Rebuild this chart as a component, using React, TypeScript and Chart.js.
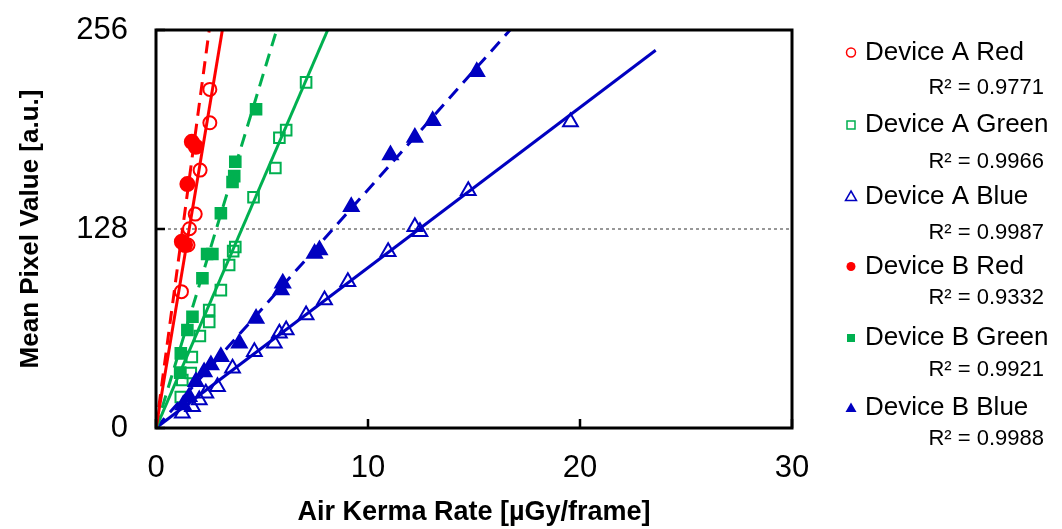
import React, { useEffect, useRef } from "react";
import { Chart, registerables } from "chart.js";

Chart.register(...registerables);

// ---------- data ----------
const seriesNames = [
  "Device A Red",
  "Device A Green",
  "Device A Blue",
  "Device B Red",
  "Device B Green",
  "Device B Blue",
];
const r2Values = ["0.9771", "0.9966", "0.9987", "0.9332", "0.9921", "0.9988"];

const aRedX = [2.54, 2.54, 2.08, 1.85, 1.58, 1.51, 1.2];
const aRedY = [217.8, 196.3, 165.9, 137.6, 128.2, 117.7, 87.7];

const bRedX = [1.69, 1.88, 1.48, 1.22, 1.37];
const bRedY = [184.1, 180.9, 156.9, 119.8, 117.7];

const aGreenX = [7.08, 6.14, 5.82, 5.63, 4.6, 3.74, 3.64, 3.45, 3.06, 2.51, 2.51, 2.07, 1.69, 1.64, 1.24, 1.17];
const aGreenY = [222.3, 191.6, 186.7, 167.2, 148.4, 116.4, 113.8, 104.8, 88.7, 75.9, 68.2, 59.2, 45.7, 35.4, 30.9, 19.9];

const bGreenX = [4.72, 3.74, 3.69, 3.61, 3.06, 2.66, 2.41, 2.19, 1.72, 1.48, 1.17, 1.14];
const bGreenY = [205, 171.3, 162, 158.2, 138.1, 111.9, 111.9, 96.3, 71.6, 63, 48, 35.6];

const aBlueX = [19.55, 14.73, 12.45, 12.21, 10.95, 9.05, 7.95, 7.08, 6.14, 5.82, 5.58, 4.64, 3.61, 2.9, 2.35, 2.04, 1.72, 1.24];
const aBlueY = [196.8, 152.6, 126.2, 129.5, 113.4, 94.1, 82.3, 72.7, 63, 60.9, 54.5, 49.1, 38.4, 26.6, 22.3, 18, 13.7, 9.5];

const bBlueX = [15.13, 13.05, 12.21, 11.06, 9.21, 7.71, 7.48, 5.98, 5.9, 4.72, 3.93, 3.06, 2.59, 2.27, 1.88, 1.56, 1.28];
const bBlueY = [229.1, 197.6, 186.9, 175.6, 142.3, 114.5, 112.3, 93.1, 88.7, 70.5, 54.5, 45.9, 40.5, 36, 29.8, 20.1, 14.8];

// trend lines (end points)
const trendARedX = [0, 3.13];
const trendARedY = [0, 256];
const trendBRedX = [0, 2.51];
const trendBRedY = [0, 256];
const trendAGreenX = [0, 8.1];
const trendAGreenY = [0, 256];
const trendBGreenX = [0, 5.69];
const trendBGreenY = [0, 256];
const trendABlueX = [0, 23.57];
const trendABlueY = [0, 243];
const trendBBlueX = [0, 16.7];
const trendBBlueY = [0, 256];

const xTickValues = [0, 10, 20, 30];
const yTickValues = [0, 128, 256];
const refLineValue = 128;

// ---------- styles ----------
const RED = "#FF0000";
const GREEN = "#00B050";
const BLUE = "#0000C0";
const colors = [RED, GREEN, BLUE, RED, GREEN, BLUE];
const shapes = ["circle", "rect", "triangle", "circle", "rect", "triangle"];
const filled = [false, false, false, true, true, true];

const SANS = "'Liberation Sans', Arial, sans-serif";

const toPts = (xs: number[], ys: number[]) => xs.map((x, i) => ({ x, y: ys[i] }));

function drawMarker(ctx: CanvasRenderingContext2D, shape: string, x: number, y: number, color: string, fill: boolean) {
  ctx.save();
  ctx.beginPath();
  if (shape === "circle") {
    ctx.arc(x, y, 4.5, 0, Math.PI * 2);
  } else if (shape === "rect") {
    ctx.rect(x - 4, y - 4, 8, 8);
  } else {
    ctx.moveTo(x, y - 5.5);
    ctx.lineTo(x + 5.5, y + 4);
    ctx.lineTo(x - 5.5, y + 4);
    ctx.closePath();
  }
  if (fill) {
    ctx.fillStyle = color;
    ctx.fill();
  } else {
    ctx.strokeStyle = color;
    ctx.lineWidth = 1.5;
    ctx.stroke();
  }
  ctx.restore();
}

const framePlugin = {
  id: "framePlugin",
  beforeDatasetsDraw(chart: any) {
    const { ctx, chartArea, scales } = chart;
    const yy = scales.y.getPixelForValue(refLineValue);
    ctx.save();
    ctx.strokeStyle = "#555";
    ctx.lineWidth = 1.2;
    ctx.setLineDash([3, 3]);
    ctx.beginPath();
    ctx.moveTo(chartArea.left, yy);
    ctx.lineTo(chartArea.right, yy);
    ctx.stroke();
    ctx.restore();
  },
  afterDatasetsDraw(chart: any) {
    const { ctx, chartArea, scales } = chart;
    const { left, right, top, bottom } = chartArea;
    ctx.save();
    ctx.strokeStyle = "#000";
    ctx.lineWidth = 3;
    ctx.strokeRect(left, top, right - left, bottom - top);
    ctx.lineWidth = 2.5;
    ctx.beginPath();
    yTickValues.forEach((v) => {
      const p = scales.y.getPixelForValue(v);
      ctx.moveTo(left, p);
      ctx.lineTo(left + 9, p);
    });
    xTickValues.forEach((v) => {
      const p = scales.x.getPixelForValue(v);
      ctx.moveTo(p, bottom);
      ctx.lineTo(p, bottom - 9);
    });
    ctx.stroke();
    ctx.restore();
  },
  afterDraw(chart: any) {
    const { ctx } = chart;
    const nameY = [52.5, 125, 196.5, 266.5, 338, 408];
    const r2Y = [87.5, 162, 233, 298, 370, 439];
    ctx.save();
    seriesNames.forEach((name, i) => {
      drawMarker(ctx, shapes[i], 851, nameY[i], colors[i], filled[i]);
      ctx.fillStyle = "#000";
      ctx.textBaseline = "middle";
      ctx.textAlign = "left";
      ctx.font = `26px ${SANS}`;
      ctx.fillText(name, 865, nameY[i]);
      ctx.textAlign = "right";
      ctx.font = `22px ${SANS}`;
      ctx.fillText(`R² = ${r2Values[i]}`, 1044, r2Y[i]);
    });
    ctx.restore();
  },
};

export default function App() {
  const ref = useRef<HTMLCanvasElement | null>(null);

  useEffect(() => {
    document.body.style.margin = "0";
    const canvas = ref.current;
    if (!canvas) return;

    const scatterSet = (i: number, xs: number[], ys: number[], radius: number) => ({
      type: "scatter" as const,
      label: seriesNames[i],
      data: toPts(xs, ys),
      pointStyle: shapes[i],
      pointRadius: radius,
      pointBorderWidth: 2,
      pointBorderColor: colors[i],
      pointBackgroundColor: filled[i] ? colors[i] : "rgba(0,0,0,0)",
      showLine: false,
    });
    const lineSet = (i: number, xs: number[], ys: number[], dashed: boolean) => ({
      type: "scatter" as const,
      label: seriesNames[i] + " trend",
      data: toPts(xs, ys),
      showLine: true,
      pointRadius: 0,
      borderColor: colors[i],
      borderWidth: 3,
      borderDash: dashed ? [13, 8] : [],
      fill: false,
    });

    const chart = new Chart(canvas, {
      type: "scatter",
      data: {
        datasets: [
          lineSet(0, trendARedX, trendARedY, false),
          lineSet(3, trendBRedX, trendBRedY, true),
          lineSet(1, trendAGreenX, trendAGreenY, false),
          lineSet(4, trendBGreenX, trendBGreenY, true),
          lineSet(2, trendABlueX, trendABlueY, false),
          lineSet(5, trendBBlueX, trendBBlueY, true),
          scatterSet(5, bBlueX, bBlueY, 8.5),
          scatterSet(2, aBlueX, aBlueY, 8.5),
          scatterSet(4, bGreenX, bGreenY, 7.5),
          scatterSet(1, aGreenX, aGreenY, 7.5),
          scatterSet(3, bRedX, bRedY, 7),
          scatterSet(0, aRedX, aRedY, 6.5),
        ] as any,
      },
      options: {
        animation: false,
        responsive: false,
        maintainAspectRatio: false,
        layout: { padding: { left: 0, right: 270, top: 30, bottom: 0 } },
        plugins: {
          legend: { display: false },
          tooltip: { enabled: false },
        },
        scales: {
          x: {
            type: "linear",
            min: 0,
            max: 30,
            afterFit: (s: any) => {
              s.height = 101;
              s.paddingLeft = 0;
              s.paddingRight = 0;
            },
            afterBuildTicks: (s: any) => {
              s.ticks = xTickValues.map((v) => ({ value: v }));
            },
            grid: { display: false, drawTicks: false },
            border: { display: false },
            ticks: {
              color: "#000",
              padding: 22,
              maxRotation: 0,
              font: { family: SANS, size: 31 },
            },
            title: {
              display: true,
              text: "Air Kerma Rate [µGy/frame]",
              color: "#000",
              font: { family: SANS, size: 27, weight: "bold" },
              padding: { top: 0, bottom: 0 },
            },
          },
          y: {
            type: "linear",
            min: 0,
            max: 256,
            afterFit: (s: any) => {
              s.width = 156;
              s.paddingTop = 0;
              s.paddingBottom = 0;
            },
            afterBuildTicks: (s: any) => {
              s.ticks = yTickValues.map((v) => ({ value: v }));
            },
            grid: { display: false, drawTicks: false },
            border: { display: false },
            ticks: {
              color: "#000",
              padding: 28,
              font: { family: SANS, size: 31 },
            },
            title: {
              display: true,
              text: "Mean Pixel Value [a.u.]",
              color: "#000",
              font: { family: SANS, size: 26, weight: "bold" },
              padding: { top: 15, bottom: 0 },
            },
          },
        },
      } as any,
      plugins: [framePlugin as any],
    });
    return () => chart.destroy();
  }, []);

  return (
    <div style={{ position: "absolute", left: 0, top: 0, width: 1062, height: 529, background: "#fff" }}>
      <canvas ref={ref} width={1062} height={529} style={{ width: 1062, height: 529, display: "block" }} />
    </div>
  );
}
